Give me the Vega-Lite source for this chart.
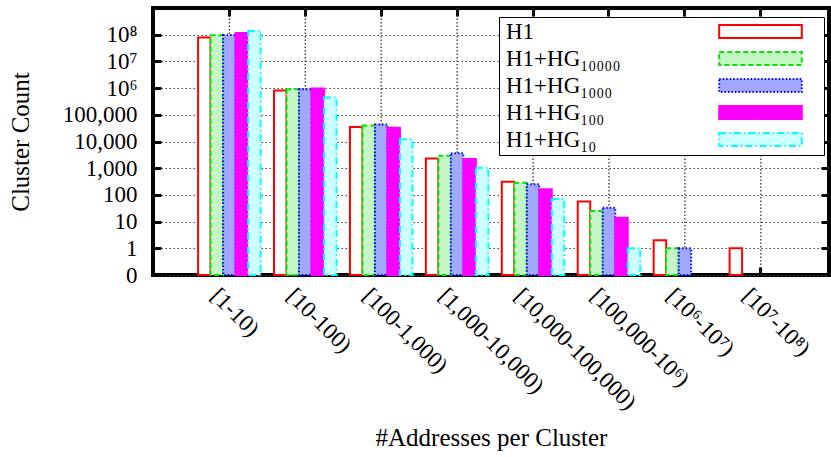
{
  "$schema": "https://vega.github.io/schema/vega-lite/v6.json",
  "width": 676,
  "height": 267,
  "autosize": {"type": "none"},
  "padding": {"left": 153, "top": 8, "right": 2, "bottom": 182},
  "background": "white",
  "config": {
    "font": "Liberation Serif",
    "view": {"stroke": "black", "strokeWidth": 4},
    "axis": {
      "labelFont": "Liberation Serif",
      "titleFont": "Liberation Serif",
      "labelFontSize": 23,
      "titleFontSize": 25,
      "labelColor": "black",
      "titleColor": "black",
      "titleFontWeight": "normal",
      "domain": false,
      "tickColor": "black",
      "tickWidth": 3,
      "tickSize": -8,
      "gridColor": "#444444",
      "gridDash": [1.5, 2.5],
      "gridWidth": 1
    }
  },
  "data": {
    "values": [
      {"bin": "[1-10)", "series": "H1", "count": 79000000},
      {"bin": "[1-10)", "series": "H1+HG₁₀₀₀₀", "count": 96000000},
      {"bin": "[1-10)", "series": "H1+HG₁₀₀₀", "count": 98000000},
      {"bin": "[1-10)", "series": "H1+HG₁₀₀", "count": 115000000},
      {"bin": "[1-10)", "series": "H1+HG₁₀", "count": 137000000},
      {"bin": "[10-100)", "series": "H1", "count": 810000},
      {"bin": "[10-100)", "series": "H1+HG₁₀₀₀₀", "count": 910000},
      {"bin": "[10-100)", "series": "H1+HG₁₀₀₀", "count": 910000},
      {"bin": "[10-100)", "series": "H1+HG₁₀₀", "count": 970000},
      {"bin": "[10-100)", "series": "H1+HG₁₀", "count": 440000},
      {"bin": "[100-1,000)", "series": "H1", "count": 35000},
      {"bin": "[100-1,000)", "series": "H1+HG₁₀₀₀₀", "count": 39500},
      {"bin": "[100-1,000)", "series": "H1+HG₁₀₀₀", "count": 43000},
      {"bin": "[100-1,000)", "series": "H1+HG₁₀₀", "count": 33000},
      {"bin": "[100-1,000)", "series": "H1+HG₁₀", "count": 12200},
      {"bin": "[1,000-10,000)", "series": "H1", "count": 2290},
      {"bin": "[1,000-10,000)", "series": "H1+HG₁₀₀₀₀", "count": 2950},
      {"bin": "[1,000-10,000)", "series": "H1+HG₁₀₀₀", "count": 3600},
      {"bin": "[1,000-10,000)", "series": "H1+HG₁₀₀", "count": 2230},
      {"bin": "[1,000-10,000)", "series": "H1+HG₁₀", "count": 1050},
      {"bin": "[10,000-100,000)", "series": "H1", "count": 314},
      {"bin": "[10,000-100,000)", "series": "H1+HG₁₀₀₀₀", "count": 288},
      {"bin": "[10,000-100,000)", "series": "H1+HG₁₀₀₀", "count": 251},
      {"bin": "[10,000-100,000)", "series": "H1+HG₁₀₀", "count": 163},
      {"bin": "[10,000-100,000)", "series": "H1+HG₁₀", "count": 70},
      {"bin": "[100,000-10⁶)", "series": "H1", "count": 56},
      {"bin": "[100,000-10⁶)", "series": "H1+HG₁₀₀₀₀", "count": 25},
      {"bin": "[100,000-10⁶)", "series": "H1+HG₁₀₀₀", "count": 33},
      {"bin": "[100,000-10⁶)", "series": "H1+HG₁₀₀", "count": 14},
      {"bin": "[100,000-10⁶)", "series": "H1+HG₁₀", "count": 1},
      {"bin": "[10⁶-10⁷)", "series": "H1", "count": 2},
      {"bin": "[10⁶-10⁷)", "series": "H1+HG₁₀₀₀₀", "count": 1},
      {"bin": "[10⁶-10⁷)", "series": "H1+HG₁₀₀₀", "count": 1},
      {"bin": "[10⁷-10⁸)", "series": "H1", "count": 1}
    ]
  },
  "layer": [
    {
      "transform": [{"aggregate": [{"op": "count", "as": "n"}], "groupby": ["bin"]}],
      "mark": {"type": "rule", "stroke": "#333333", "strokeWidth": 1.3, "strokeDash": [1.5, 2]},
      "encoding": {
        "x": {
          "field": "bin", "type": "nominal",
          "sort": ["[1-10)", "[10-100)", "[100-1,000)", "[1,000-10,000)", "[10,000-100,000)", "[100,000-10⁶)", "[10⁶-10⁷)", "[10⁷-10⁸)"],
          "axis": {"orient": "top", "labels": false, "title": null, "grid": false}
        }
      }
    },
    {
      "mark": {"type": "bar", "opacity": 0},
      "encoding": {
        "x": {
          "field": "bin", "type": "nominal",
          "sort": ["[1-10)", "[10-100)", "[100-1,000)", "[1,000-10,000)", "[10,000-100,000)", "[100,000-10⁶)", "[10⁶-10⁷)", "[10⁷-10⁸)"],
          "axis": null
        },
        "y": {
          "field": "count", "type": "quantitative", "stack": null,
          "axis": {"orient": "right", "labels": false, "title": null, "grid": false, "values": [1, 10, 100, 1000, 10000, 100000, 1000000, 10000000, 100000000]}
        }
      }
    },
    {
      "mark": {"type": "bar", "strokeWidth": 2},
      "encoding": {
        "x": {
          "field": "bin", "type": "nominal",
          "sort": ["[1-10)", "[10-100)", "[100-1,000)", "[1,000-10,000)", "[10,000-100,000)", "[100,000-10⁶)", "[10⁶-10⁷)", "[10⁷-10⁸)"],
          "scale": {"paddingInner": 0.177, "paddingOuter": 0.54, "align": 0.55},
          "axis": {
            "orient": "bottom",
            "title": "#Addresses per Cluster",
            "labelAngle": 45,
            "labelAlign": "left",
            "labelBaseline": "top",
            "labelOffset": -7,
            "labelPadding": 17,
            "labelLimit": 400,
            "grid": false,
            "titleY": 170,
            "titleBaseline": "alphabetic"
          }
        },
        "xOffset": {
          "field": "series", "type": "nominal",
          "sort": ["H1", "H1+HG₁₀₀₀₀", "H1+HG₁₀₀₀", "H1+HG₁₀₀", "H1+HG₁₀"],
          "scale": {"paddingInner": 0, "paddingOuter": 0}
        },
        "y": {
          "field": "count", "type": "quantitative", "stack": null,
          "scale": {"type": "log", "domain": [0.1, 1000000000], "nice": false},
          "axis": {
            "title": "Cluster Count",
            "values": [0.1, 1, 10, 100, 1000, 10000, 100000, 1000000, 10000000, 100000000],
            "labelExpr": "datum.value < 0.5 ? '0' : datum.value > 50000000 ? '10⁸' : datum.value > 5000000 ? '10⁷' : datum.value > 500000 ? '10⁶' : format(datum.value, ',')",
            "labelPadding": 24,
            "titlePadding": 29,
            "grid": true
          }
        },
        "fill": {
          "field": "series", "type": "nominal", "title": null,
          "scale": {"domain": ["H1", "H1+HG₁₀₀₀₀", "H1+HG₁₀₀₀", "H1+HG₁₀₀", "H1+HG₁₀"], "range": ["#ffffff", "#c4f5c4", "#a0a8ff", "#ff00ff", "#ccffff"]},
          "legend": {"orient": "none", "legendX": 346, "legendY": 9, "padding": 3, "rowPadding": 3, "labelFont": "Liberation Serif", "labelFontSize": 23, "labelColor": "black", "labelOffset": -19, "labelLimit": 300, "labelBaseline": "middle", "symbolType": "M-12,0M303,0M205.7,-6.5H288.3V6.5H205.7Z", "symbolSize": 4, "symbolStrokeWidth": 2, "strokeColor": "black", "fillColor": "white"}
        },
        "stroke": {
          "field": "series", "type": "nominal", "title": null,
          "scale": {"domain": ["H1", "H1+HG₁₀₀₀₀", "H1+HG₁₀₀₀", "H1+HG₁₀₀", "H1+HG₁₀"], "range": ["#ff0000", "#00e600", "#0000ff", "#ff00ff", "#00ffff"]},
          "legend": {"orient": "none", "legendX": 346, "legendY": 9, "padding": 3, "rowPadding": 3, "labelFont": "Liberation Serif", "labelFontSize": 23, "labelColor": "black", "labelOffset": -19, "labelLimit": 300, "labelBaseline": "middle", "symbolType": "M-12,0M303,0M205.7,-6.5H288.3V6.5H205.7Z", "symbolSize": 4, "symbolStrokeWidth": 2, "strokeColor": "black", "fillColor": "white"}
        },
        "strokeDash": {
          "field": "series", "type": "nominal", "title": null,
          "scale": {"domain": ["H1", "H1+HG₁₀₀₀₀", "H1+HG₁₀₀₀", "H1+HG₁₀₀", "H1+HG₁₀"], "range": [[1, 0], [5, 3], [1.5, 2], [1, 0], [7, 3, 1.5, 3]]},
          "legend": {"orient": "none", "legendX": 346, "legendY": 9, "padding": 3, "rowPadding": 3, "labelFont": "Liberation Serif", "labelFontSize": 23, "labelColor": "black", "labelOffset": -19, "labelLimit": 300, "labelBaseline": "middle", "symbolType": "M-12,0M303,0M205.7,-6.5H288.3V6.5H205.7Z", "symbolSize": 4, "symbolStrokeWidth": 2, "strokeColor": "black", "fillColor": "white"}
        }
      }
    }
  ],
  "resolve": {"axis": {"x": "independent", "y": "independent"}}
}
